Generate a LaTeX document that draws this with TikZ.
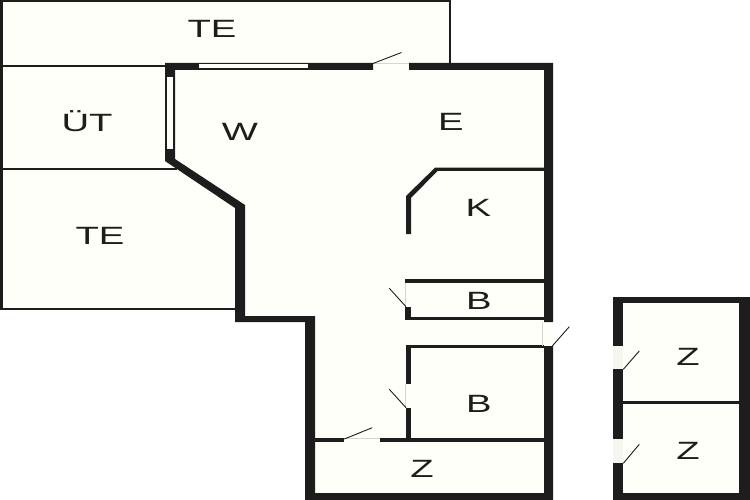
\documentclass[tikz,border=0pt]{standalone}
\usepackage{fontspec}
\newfontfamily\planfont[FakeStretch=1.53]{Liberation Sans}
\definecolor{floorcol}{HTML}{FFFFFA}
\definecolor{gapcol}{HTML}{F6F6F0}
\definecolor{wallcol}{HTML}{1E1C1C}
\definecolor{sillcol}{HTML}{D6D6D0}
\tikzset{
	wallfill/.style={fill=wallcol},
	thinwall/.style={draw=wallcol, line width=2pt},
	partwall/.style={draw=wallcol, line width=3.4pt},
	leaf/.style={draw=wallcol, line width=0.9pt},
	sill/.style={draw=sillcol, line width=0.8pt},
	glass/.style={fill=floorcol},
	room/.style={font=\planfont\fontsize{25}{25}\selectfont, text=wallcol, inner sep=0pt, anchor=base}
}
\begin{document}
\begin{tikzpicture}[x=1pt, y=-1pt, line join=miter]
	\useasboundingbox (0,0) rectangle (750,500);
	\fill[white] (0,0) rectangle (750,500);
	\path
	(1.3,1) coordinate (TL)
	(450,1) coordinate (TR)
	(450,63) coordinate (TJ)
	(1.3,309) coordinate (BL)
	(235,309) coordinate (BJ)
	(165,63) coordinate (A)
	(373,63) coordinate (A1)
	(409,63) coordinate (A2)
	(553,63) coordinate (B)
	(553,322) coordinate (C)
	(553,346) coordinate (D)
	(553,500) coordinate (E)
	(305,500) coordinate (F)
	(305,322) coordinate (G)
	(235,322) coordinate (H)
	(235,208) coordinate (I)
	(165,161) coordinate (J)
	(613,297) coordinate (P)
	(750,297) coordinate (Q)
	(750,500) coordinate (R)
	(613,500) coordinate (S)
	;
	% floors
	\fill[floorcol] (TL)--(TR)--(TJ)--(B)--(E)--(F)--(G)--(H)--(BJ)--(BL)--cycle;
	\fill[floorcol] (P)--(Q)--(R)--(S)--cycle;
	% terrace lines
	\draw[thinwall, line width=2.6pt] (TJ)--(TR)--(TL)--(BL);
	\draw[thinwall] (0,66)--(165,66);
	\draw[thinwall] (0,169)--(177,169);
	\draw[thinwall] (0,309)--(BJ);
	% outer walls
	\fill[wallfill] (A)--(A1)--(373,70)--(175,70)--(175,159)--(245,205)--(245,316)--(315,316)--(315,493)--(544,493)--(544,346)--(D)--(E)--(F)--(G)--(H)--(I)--(J)--cycle;
	\fill[wallfill] (A2)--(B)--(C)--(544,322)--(544,70)--(409,70)--cycle;
	% windows
	\fill[glass] (199,64.5) rectangle (308,68.2);
	\fill[glass] (166.8,77.3) rectangle (173.2,149);
	% kitchen
	\fill[wallfill] (544,167.7)--(435,167.7)--(406,196)--(406,234)--(411,234)--(411,198)--(437.5,171)--(544,171)--cycle;
	% inner walls
	\draw[partwall] (405,281)--(544,281);
	\draw[partwall] (405,318.5)--(544,318.5);
	\fill[wallfill] (405,306.7) rectangle (410.7,320);
	\draw[partwall] (405.5,346.7)--(544,346.7);
	\fill[wallfill] (405.5,345) rectangle (410.7,384);
	\fill[wallfill] (405.5,407.7) rectangle (410.7,440);
	\draw[partwall] (315,440)--(344.3,440);
	\draw[partwall] (380,440)--(544,440);
	% shed
	\fill[wallfill] (P)--(Q)--(R)--(S)--cycle;
	\fill[floorcol] (623.3,302.7) rectangle (739.3,401);
	\fill[floorcol] (623.3,404.3) rectangle (739.3,492.7);
	\fill[gapcol] (613,345.7) rectangle (623.3,369.3);
	\fill[gapcol] (613,439) rectangle (623.3,463.3);
	% door sills
	\draw[sill] (A1)--(A2);
	\draw[sill] (405.5,282.7)--(405.5,306.7);
	\draw[sill] (405.5,384)--(405.5,407.7);
	\draw[sill] (344.3,438.5)--(380,438.5);
	\draw[sill] (542.3,322)--(542.3,346);
	% door leaves
	\foreach \ax/\ay/\bx/\by in {373/63.5/401.5/52.5, 406/306.7/389.3/288.3, 406/407.7/389.3/389.3, 344.3/439/372.3/427.7, 552.3/346/569.3/326.7, 623.3/369.3/639.3/351, 623.3/463.3/639.3/444.3}
	\draw[leaf] (\ax,\ay)--(\bx,\by);
	% rooms
	\foreach \n/\x/\y/\t in {te1/212/38/TE, ut/87/132/ÜT, w/240/141/W, e/451/131/E, k/478.5/216/K, te2/100/244/TE, b1/479/309.5/B, b2/479/412/B, z1/422/477/Z, z2/688/365.5/Z, z3/688/459.5/Z}
	\node[room] (\n) at (\x,\y) {\t};
\end{tikzpicture}
\end{document}
